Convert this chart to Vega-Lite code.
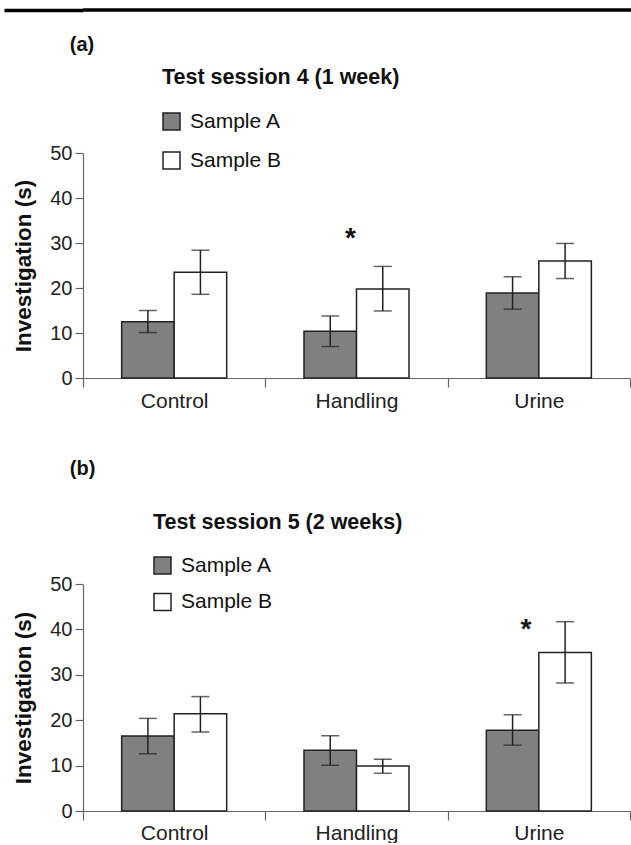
{
  "$schema": "https://vega.github.io/schema/vega-lite/v6.json",
  "padding": {"left": 2, "top": 8, "right": 0, "bottom": 0},
  "background": "white",
  "config": {
    "font": "Liberation Sans",
    "view": {"stroke": null},
    "axis": {"domainColor": "#666", "tickColor": "#666", "labelColor": "#222", "titleColor": "#111", "grid": false, "domainWidth": 1.2, "tickWidth": 1.2},
    "title": {"color": "#111"},
    "legend": {"labelColor": "#111"}
  },
  "datasets": {
    "a": [
      {"group": "Control", "sample": "Sample A", "mean": 12.5, "lo": 10.1, "hi": 15.0},
      {"group": "Control", "sample": "Sample B", "mean": 23.5, "lo": 18.6, "hi": 28.4},
      {"group": "Handling", "sample": "Sample A", "mean": 10.4, "lo": 7.0, "hi": 13.8},
      {"group": "Handling", "sample": "Sample B", "mean": 19.8, "lo": 14.9, "hi": 24.8},
      {"group": "Urine", "sample": "Sample A", "mean": 18.9, "lo": 15.3, "hi": 22.5},
      {"group": "Urine", "sample": "Sample B", "mean": 26.0, "lo": 22.1, "hi": 29.9}
    ],
    "b": [
      {"group": "Control", "sample": "Sample A", "mean": 16.5, "lo": 12.6, "hi": 20.4},
      {"group": "Control", "sample": "Sample B", "mean": 21.4, "lo": 17.4, "hi": 25.2},
      {"group": "Handling", "sample": "Sample A", "mean": 13.4, "lo": 10.1, "hi": 16.6},
      {"group": "Handling", "sample": "Sample B", "mean": 9.9, "lo": 8.3, "hi": 11.4},
      {"group": "Urine", "sample": "Sample A", "mean": 17.8, "lo": 14.5, "hi": 21.2},
      {"group": "Urine", "sample": "Sample B", "mean": 34.9, "lo": 28.2, "hi": 41.7}
    ],
    "starA": [{"group": "Handling", "y": 29.2}],
    "starB": [{"group": "Urine", "y": 38.0}],
    "line": [{}]
  },
  "spacing": 47,
  "resolve": {"scale": {"fill": "independent"}, "legend": {"fill": "independent"}},
  "vconcat": [
    {
      "spacing": 22,
      "resolve": {"scale": {"fill": "independent"}, "legend": {"fill": "independent"}},
      "vconcat": [
        {
          "data": {"name": "line"},
          "width": 548,
          "height": 1,
          "mark": {"type": "rule", "strokeWidth": 3.5, "color": "#000"},
          "encoding": {"y": {"datum": 0, "type": "quantitative", "scale": {"domain": [0, 1]},
            "axis": {"values": [0], "domain": false, "labels": false, "ticks": true, "tickSize": 79, "tickWidth": 3.5, "tickColor": "#000", "title": null, "grid": false}}}
        },
        {
          "title": {"text": "(a)", "anchor": "start", "fontSize": 20, "fontWeight": "bold", "dx": 57, "offset": 12},
          "resolve": {"scale": {"fill": "independent"}, "legend": {"fill": "independent"}},
          "vconcat": [
            {
              "width": 547,
              "height": 225,
              "title": {"text": "Test session 4 (1 week)", "anchor": "start", "frame": "group", "dx": 79, "fontSize": 21.5, "fontWeight": "bold", "offset": 23},
              "data": {"name": "a"},
              "encoding": {
                "x": {"field": "group", "type": "nominal", "sort": ["Control", "Handling", "Urine"], "scale": {"paddingInner": 0, "paddingOuter": 0},
                  "axis": {"title": null, "tickBand": "extent", "labelFontSize": 21, "tickSize": 9, "labelPadding": 3, "labelAngle": 0}}
              },
              "layer": [
                {
                  "mark": {"type": "bar", "stroke": "#222", "strokeWidth": 1.5},
                  "encoding": {
                    "xOffset": {"field": "sample", "type": "nominal", "scale": {"paddingInner": 0, "paddingOuter": 0.736}},
                    "y": {"field": "mean", "type": "quantitative", "scale": {"domain": [0, 50]},
                      "axis": {"values": [0, 10, 20, 30, 40, 50], "title": "Investigation (s)", "titleFontSize": 22.5, "titleFontWeight": "bold", "labelFontSize": 20, "tickSize": 8, "labelPadding": 3, "titlePadding": 14}},
                    "fill": {"field": "sample", "type": "nominal", "scale": {"range": ["#808080", "#ffffff"]},
                      "legend": {"title": null, "orient": "none", "legendX": 78, "legendY": -42, "symbolType": "square", "symbolSize": 289, "symbolStrokeColor": "#222", "symbolStrokeWidth": 1.5, "symbolOpacity": 1, "labelFontSize": 21, "labelOffset": 8, "rowPadding": 16}}
                  }
                },
                {
                  "mark": {"type": "rule", "color": "#222", "strokeWidth": 1.5},
                  "encoding": {"xOffset": {"field": "sample", "type": "nominal"}, "y": {"field": "lo", "type": "quantitative"}, "y2": {"field": "hi"}}
                },
                {
                  "mark": {"type": "tick", "color": "#222", "thickness": 1.5, "size": 18, "orient": "horizontal"},
                  "encoding": {"xOffset": {"field": "sample", "type": "nominal"}, "y": {"field": "lo", "type": "quantitative"}}
                },
                {
                  "mark": {"type": "tick", "color": "#222", "thickness": 1.5, "size": 18, "orient": "horizontal"},
                  "encoding": {"xOffset": {"field": "sample", "type": "nominal"}, "y": {"field": "hi", "type": "quantitative"}}
                },
                {
                  "data": {"name": "starA"},
                  "mark": {"type": "text", "text": "*", "fontSize": 28, "fontWeight": "bold", "baseline": "alphabetic", "dx": -6, "color": "#111"},
                  "encoding": {"y": {"field": "y", "type": "quantitative"}}
                }
              ]
            }
          ]
        }
      ]
    },
    {
      "title": {"text": "(b)", "anchor": "start", "fontSize": 20, "fontWeight": "bold", "dx": 57, "offset": 33},
      "resolve": {"scale": {"fill": "independent"}, "legend": {"fill": "independent"}},
      "vconcat": [
        {
          "width": 547,
          "height": 227,
          "title": {"text": "Test session 5 (2 weeks)", "anchor": "start", "frame": "group", "dx": 70, "fontSize": 21.5, "fontWeight": "bold", "offset": 22},
          "data": {"name": "b"},
          "encoding": {
            "x": {"field": "group", "type": "nominal", "sort": ["Control", "Handling", "Urine"], "scale": {"paddingInner": 0, "paddingOuter": 0},
              "axis": {"title": null, "tickBand": "extent", "labelFontSize": 21, "tickSize": 9, "labelPadding": 2, "labelAngle": 0}}
          },
          "layer": [
            {
              "mark": {"type": "bar", "stroke": "#222", "strokeWidth": 1.5},
              "encoding": {
                "xOffset": {"field": "sample", "type": "nominal", "scale": {"paddingInner": 0, "paddingOuter": 0.736}},
                "y": {"field": "mean", "type": "quantitative", "scale": {"domain": [0, 50]},
                  "axis": {"values": [0, 10, 20, 30, 40, 50], "title": "Investigation (s)", "titleFontSize": 22.5, "titleFontWeight": "bold", "labelFontSize": 20, "tickSize": 8, "labelPadding": 3, "titlePadding": 14}},
                "fill": {"field": "sample", "type": "nominal", "scale": {"range": ["#808080", "#ffffff"]},
                  "legend": {"title": null, "orient": "none", "legendX": 69, "legendY": -29, "symbolType": "square", "symbolSize": 289, "symbolStrokeColor": "#222", "symbolStrokeWidth": 1.5, "symbolOpacity": 1, "labelFontSize": 21, "labelOffset": 8, "rowPadding": 13.5}}
              }
            },
            {
              "mark": {"type": "rule", "color": "#222", "strokeWidth": 1.5},
              "encoding": {"xOffset": {"field": "sample", "type": "nominal"}, "y": {"field": "lo", "type": "quantitative"}, "y2": {"field": "hi"}}
            },
            {
              "mark": {"type": "tick", "color": "#222", "thickness": 1.5, "size": 18, "orient": "horizontal"},
              "encoding": {"xOffset": {"field": "sample", "type": "nominal"}, "y": {"field": "lo", "type": "quantitative"}}
            },
            {
              "mark": {"type": "tick", "color": "#222", "thickness": 1.5, "size": 18, "orient": "horizontal"},
              "encoding": {"xOffset": {"field": "sample", "type": "nominal"}, "y": {"field": "hi", "type": "quantitative"}}
            },
            {
              "data": {"name": "starB"},
              "mark": {"type": "text", "text": "*", "fontSize": 28, "fontWeight": "bold", "baseline": "alphabetic", "dx": -13, "color": "#111"},
              "encoding": {"y": {"field": "y", "type": "quantitative"}}
            }
          ]
        }
      ]
    }
  ]
}
